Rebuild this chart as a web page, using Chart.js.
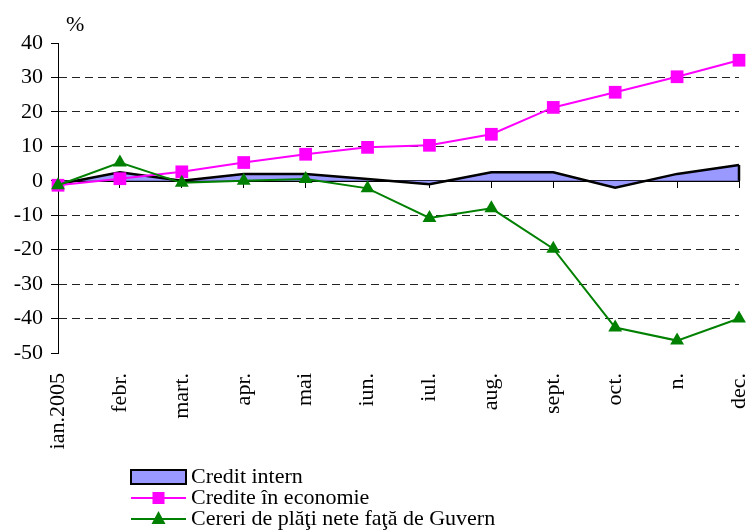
<!DOCTYPE html>
<html>
<head>
<meta charset="utf-8">
<script src="https://cdn.jsdelivr.net/npm/chart.js@4.4.0/dist/chart.umd.min.js"></script>
<style>
  html, body { margin: 0; padding: 0; background: #fff; }
  #wrap { width: 749px; height: 532px; }
</style>
</head>
<body>
<div id="wrap"><canvas id="chart"></canvas></div>
<script>
// ── data ─────────────────────────────────────────────
var months = ["ian.2005", "febr.", "mart.", "apr.", "mai", "iun.", "iul.", "aug.", "sept.", "oct.", "n.", "dec."];
var creditIntern = [-1, 2.5, 0, 2, 2, 0.5, -1, 2.5, 2.5, -2, 2, 4.6];
var crediteEconomie = [-1.3, 0.6, 2.6, 5.3, 7.7, 9.7, 10.3, 13.5, 21.3, 25.7, 30.2, 35];
var cereriGuvern = [-1.3, 5.3, -0.6, 0, 0.5, -2.2, -10.8, -8, -19.7, -42.6, -46.4, -40];
var yTicks = [40, 30, 20, 10, 0, -10, -20, -30, -40, -50];
var seriesNames = ["Credit intern", "Credite în economie", "Cereri de plăţi nete faţă de Guvern"];
var unitLabel = "%";

var FONT = "'Liberation Serif', 'Times New Roman', serif";

// closes the right edge of the area down to the axis (as in the original)
var areaEdgePlugin = {
  id: "areaEdge",
  afterDatasetDraw: function(chart, args) {
    if (args.index !== 0) return;
    var xs = chart.scales.x, ys = chart.scales.y;
    var last = creditIntern.length - 1;
    var px = xs.getPixelForValue(last);
    var ctx = chart.ctx;
    ctx.save();
    ctx.strokeStyle = "#000";
    ctx.lineWidth = 2.5;
    ctx.beginPath();
    ctx.moveTo(px, ys.getPixelForValue(creditIntern[last]));
    ctx.lineTo(px, ys.getPixelForValue(0));
    ctx.stroke();
    ctx.restore();
  }
};

// legend + unit label drawn straight on the canvas (stacked rows like the original)
var extrasPlugin = {
  id: "extras",
  afterDraw: function(chart) {
    var ctx = chart.ctx;
    ctx.save();
    ctx.fillStyle = "#000";
    ctx.textBaseline = "middle";
    ctx.font = "22px " + FONT;
    ctx.fillText(unitLabel, 66, 25);

    var x0 = 131, x1 = 186, rows = [477, 498, 519];
    ctx.font = "22px " + FONT;

    // area swatch
    ctx.fillStyle = "#9999FF";
    ctx.fillRect(x0, rows[0] - 7, x1 - x0, 14);
    ctx.strokeStyle = "#000";
    ctx.lineWidth = 2;
    ctx.strokeRect(x0, rows[0] - 7, x1 - x0, 14);

    // magenta line + square
    ctx.strokeStyle = "#FF00FF";
    ctx.beginPath(); ctx.moveTo(x0, rows[1]); ctx.lineTo(x1, rows[1]); ctx.stroke();
    ctx.fillStyle = "#FF00FF";
    ctx.fillRect((x0 + x1) / 2 - 6, rows[1] - 6, 12, 12);

    // green line + triangle
    ctx.strokeStyle = "#008000";
    ctx.beginPath(); ctx.moveTo(x0, rows[2]); ctx.lineTo(x1, rows[2]); ctx.stroke();
    ctx.fillStyle = "#008000";
    var cx = (x0 + x1) / 2;
    ctx.beginPath();
    ctx.moveTo(cx, rows[2] - 8); ctx.lineTo(cx + 7, rows[2] + 5); ctx.lineTo(cx - 7, rows[2] + 5);
    ctx.closePath(); ctx.fill();

    ctx.fillStyle = "#000";
    seriesNames.forEach(function(name, i) {
      ctx.fillText(name, 191, rows[i]);
    });
    ctx.restore();
  }
};

new Chart(document.getElementById("chart"), {
  type: "line",
  data: {
    labels: months,
    datasets: [
      {
        label: seriesNames[0],
        data: creditIntern,
        order: 3,
        fill: "origin",
        backgroundColor: "#9999FF",
        borderColor: "#000",
        borderWidth: 2.5,
        pointRadius: 0,
        tension: 0
      },
      {
        label: seriesNames[1],
        data: crediteEconomie,
        order: 2,
        fill: false,
        borderColor: "#FF00FF",
        backgroundColor: "#FF00FF",
        borderWidth: 2,
        pointStyle: "rect",
        pointRadius: 9,
        pointBorderWidth: 0,
        tension: 0
      },
      {
        label: seriesNames[2],
        data: cereriGuvern,
        order: 1,
        fill: false,
        borderColor: "#008000",
        backgroundColor: "#008000",
        borderWidth: 2,
        pointStyle: "triangle",
        pointRadius: 8,
        pointBorderWidth: 0,
        tension: 0
      }
    ]
  },
  options: {
    responsive: true,
    maintainAspectRatio: false,
    animation: false,
    layout: { padding: { top: 43, right: 10, left: 0, bottom: 0 } },
    plugins: {
      legend: { display: false },
      tooltip: { enabled: false }
    },
    scales: {
      x: {
        type: "category",
        position: { y: 0 },
        offset: false,
        ticks: { display: false },
        grid: { drawOnChartArea: false, drawTicks: true, tickLength: 6, tickColor: "#000", tickWidth: 1 },
        border: { color: "#000", width: 2 },
        afterFit: function(scale) { scale.paddingLeft = 0; scale.paddingRight = 0; }
      },
      x2: {
        type: "category",
        position: "bottom",
        offset: false,
        grid: { display: false },
        border: { display: false },
        ticks: {
          autoSkip: false,
          maxRotation: 90,
          minRotation: 90,
          padding: 12,
          color: "#000",
          font: { family: FONT, size: 22 }
        },
        afterFit: function(scale) {
          scale.height = 179;
          scale.paddingLeft = 0;
          scale.paddingRight = 0;
        }
      },
      y: {
        min: -50,
        max: 40,
        afterBuildTicks: function(scale) {
          scale.ticks = yTicks.map(function(v) { return { value: v }; });
        },
        ticks: {
          color: "#000",
          padding: 8,
          font: { family: FONT, size: 22 }
        },
        grid: {
          color: function(c) {
            var v = c.tick ? c.tick.value : null;
            return (v === 40 || v === 0 || v === -50) ? "rgba(0,0,0,0)" : "#222";
          },
          tickColor: "#000",
          tickLength: 7,
          lineWidth: 1
        },
        border: { color: "#000", width: 1, dash: [8, 5] },
        afterFit: function(scale) { scale.width = 58; }
      }
    }
  },
  plugins: [areaEdgePlugin, extrasPlugin]
});
</script>
</body>
</html>
